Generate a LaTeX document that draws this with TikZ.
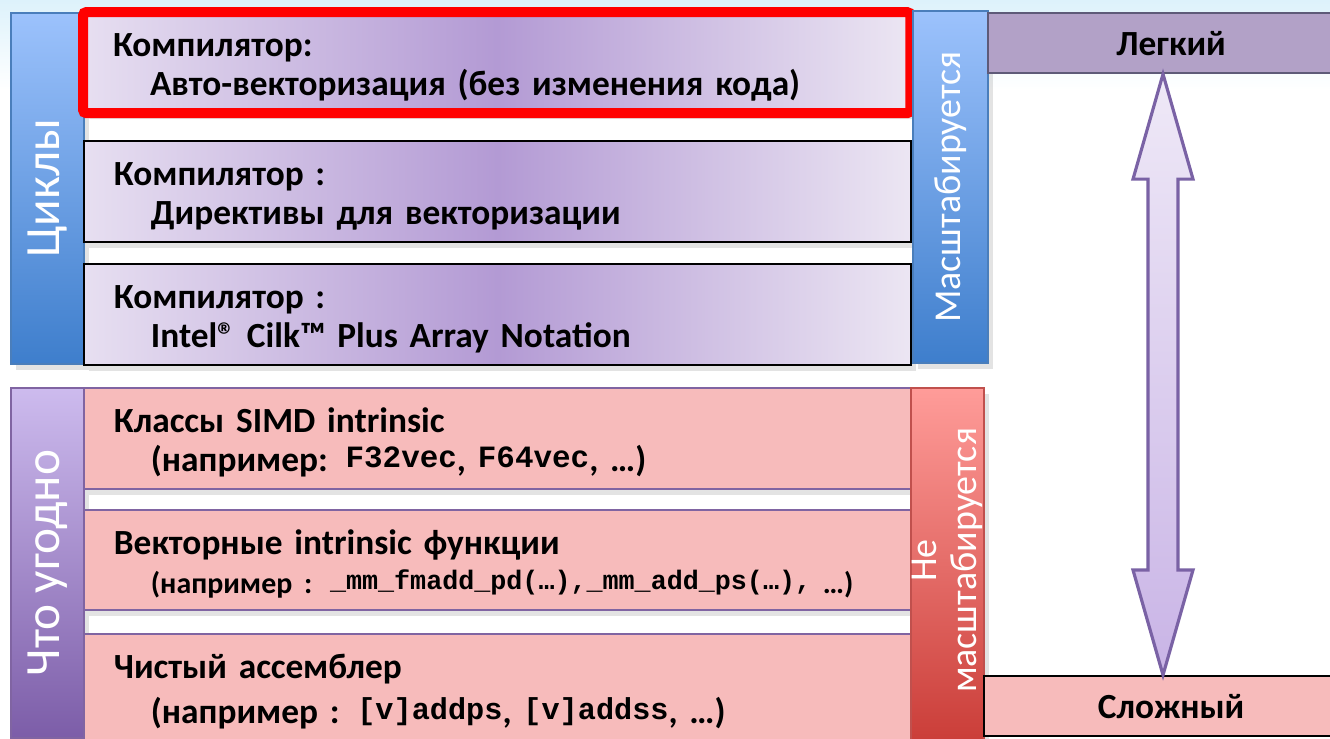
\documentclass[tikz,border=0pt]{standalone}
\usepackage{fontspec}
\setmainfont{Carlito}
\setmonofont{Liberation Mono}
\usepackage{tikz}
\usetikzlibrary{positioning,calc,shadows}
\usepackage{xcolor}
\definecolor{sky}{HTML}{DDF2FB}
\definecolor{bluetop}{HTML}{9CC2FC}
\definecolor{bluebot}{HTML}{3E7ECC}
\definecolor{blueedge}{HTML}{4A7EBB}
\definecolor{lilacL}{HTML}{E7DFF1}
\definecolor{lilacD}{HTML}{B39AD4}
\definecolor{lilacR}{HTML}{ECE6F3}
\definecolor{violtop}{HTML}{CDBBEE}
\definecolor{violbot}{HTML}{7C5DA8}
\definecolor{violedge}{HTML}{8064A2}
\definecolor{pinkfill}{HTML}{F7BBBB}
\definecolor{redtop}{HTML}{FF9C99}
\definecolor{redbot}{HTML}{CA3D38}
\definecolor{rededge}{HTML}{C0504D}
\definecolor{easyfill}{HTML}{B2A1C7}
\definecolor{easyedge}{HTML}{5E5A78}
\definecolor{arrtop}{HTML}{EFE9F7}
\definecolor{arrbot}{HTML}{C9B4E6}
\definecolor{arredge}{HTML}{7A62A5}
\newcommand{\indline}{\\\hspace*{3.7mm}}
\newcommand{\code}[2][8.8]{\raisebox{1.2pt}{\fontsize{#1}{10}\selectfont\ttfamily #2}}
\tikzset{
  lift/.style={drop shadow={opacity=0.22, shadow xshift=0.5mm, shadow yshift=-0.6mm}},
  band/.style={lift, draw, line width=0.5pt, anchor=north west, minimum width=8.27cm, minimum height=0.99cm,
    text width=7.67cm, inner xsep=0.3cm, align=left, font=\bfseries\fontsize{10.05}{11.2}\selectfont,
    execute at begin node={\rule{0pt}{9.3pt}}},
  lilacband/.style={band, left color=lilacL, right color=lilacR, middle color=lilacD},
  pinkband/.style={band, fill=pinkfill, draw=violedge},
  sidebar/.style={lift, line width=0.5pt, anchor=north west, minimum width=0.73cm, minimum height=#1, inner sep=0pt},
  sidetext/.style={rotate=90, text=white, align=center, font=\fontsize{#1}{11.4}\selectfont},
  sidetext/.default=10.8,
  levelbar/.style={draw=#1, line width=0.6pt, anchor=north west, minimum height=0.6cm, inner sep=0pt,
    font=\bfseries\fontsize{10.05}{11}\selectfont},
  bigarrow/.style={draw=arredge, line width=0.9pt, top color=arrtop, bottom color=arrbot},
}

\begin{document}
\begin{tikzpicture}[x=0.01cm, y=-0.01cm]
  \useasboundingbox (0,0) rectangle (1330,738);
  \fill[top color=sky, bottom color=white] (0,0) rectangle (1330,90);
  \coordinate (axis) at (1163,0);

  \node[sidebar=3.51cm, draw=blueedge, top color=bluetop, bottom color=bluebot] (loops) at (10,12) {};
  \node[sidebar=3.50cm, draw=violedge, top color=violtop, bottom color=violbot] (any) at (10,387) {};
  \node[lilacband, draw=red, line width=0.1cm, rounded corners=1pt] (comp1) at (78,7)
    {Компилятор:\indline Авто-векторизация (без изменения кода)};
  \foreach \y/\name/\txt in {140/comp2/{Компилятор :\indline Директивы для векторизации},
                             263/comp3/{Компилятор :\indline Intel® Cilk™ Plus Array Notation}}
    { \node[lilacband] (\name) at (83,\y) {\txt}; }
  \node[pinkband] (cls) at (83,387) {Классы SIMD intrinsic\indline(например: \code{F32vec}, \code{F64vec}, …)};
  \node[pinkband] (vec) at (83,509) {Векторные intrinsic функции\indline
    {\fontsize{8.5}{9}\selectfont(например : \code[7.6]{\_mm\_fmadd\_pd(…),\_mm\_add\_ps(…),} …)}};
  \node[pinkband, minimum height=1.02cm, execute at begin node={},
    font=\bfseries\fontsize{10.05}{12.8}\selectfont] (asm) at (83,633)
    {Чистый ассемблер\indline(например : \code[8.6]{[v]addps}, \code[8.6]{[v]addss}, …)};
  \node[sidebar=3.52cm, minimum width=0.75cm, draw=blueedge, top color=bluetop, bottom color=bluebot] (scal) at (912,10) {};
  \node[sidebar=3.55cm, draw=rededge, top color=redtop, bottom color=redbot] (noscal) at (910,387) {};
  \node[sidetext=14] at (loops) {Циклы};
  \node[sidetext=14] at (any) {Что угодно};
  \node[sidetext] at (scal) {Масштабируется};
  \node[sidetext, xshift=0.05cm] at (noscal) {Не\\масштабируется};

  \node[levelbar=easyedge, fill=easyfill, minimum width=3.66cm] (easy) at (987,12) {Легкий};
  \node[levelbar=black, fill=pinkfill, minimum width=3.74cm] (hard) at (983,675) {Сложный};
  \coordinate (top) at (easy.south -| axis);
  \coordinate (bot) at (hard.north -| axis);
  \draw[bigarrow] (top) -- ($(top)+(30,105)$) -- ($(top)+(15,105)$) -- ($(bot)+(15,-105)$)
    -- ($(bot)+(30,-105)$) -- (bot) -- ($(bot)+(-30,-105)$) -- ($(bot)+(-15,-105)$)
    -- ($(top)+(-15,105)$) -- ($(top)+(-30,105)$) -- cycle;
\end{tikzpicture}
\end{document}
